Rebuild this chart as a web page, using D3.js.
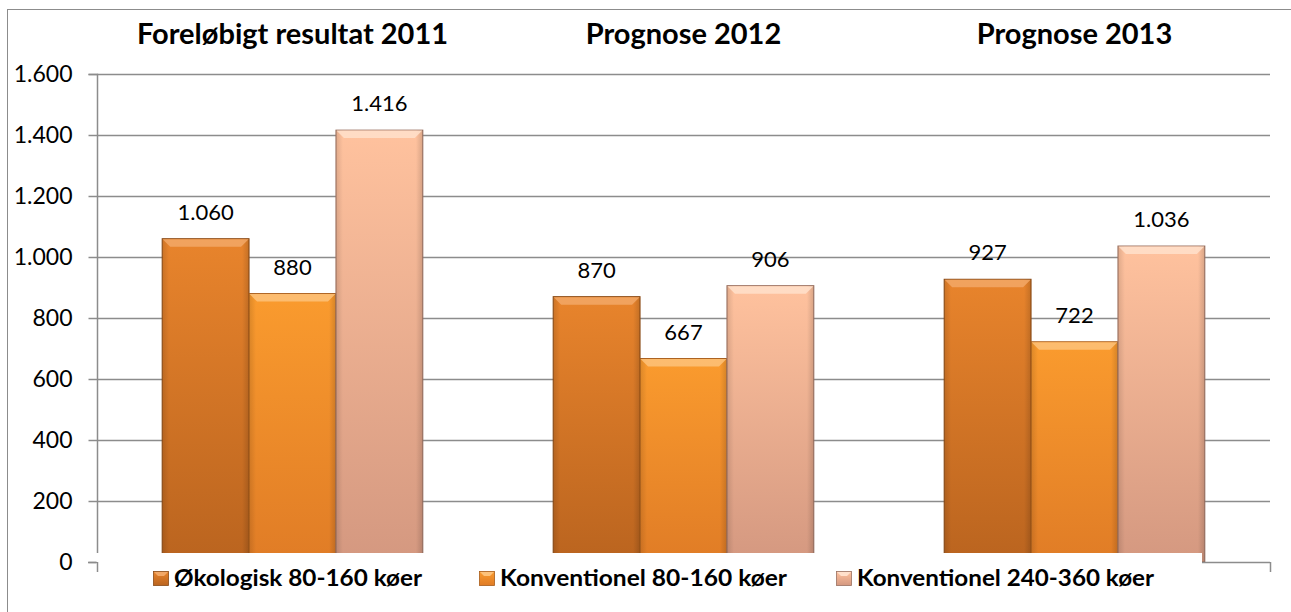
<!DOCTYPE html>
<html><head><meta charset="utf-8">
<script src="https://cdn.jsdelivr.net/npm/d3@7"></script>
<style>body{margin:0;background:#fff}svg{display:block}</style>
</head><body>
<svg id="c" width="1291" height="612"></svg>
<script>
const categories = ["Foreløbigt resultat 2011", "Prognose 2012", "Prognose 2013"];
const seriesNames = ["Økologisk 80-160 køer", "Konventionel 80-160 køer", "Konventionel 240-360 køer"];
const okologisk = [1060, 870, 927];
const konv80 = [880, 667, 722];
const konv240 = [1416, 906, 1036];
const yTicks = [0, 200, 400, 600, 800, 1000, 1200, 1400, 1600];
const fmt = v => d3.format(",")(v).replace(/,/g, ".");

const seriesValues = [okologisk, konv80, konv240];
const colors = [
  {top:"#E8842C", bot:"#BA641F", hi:"#F2A867", edge:"#8A4A16"},
  {top:"#FA9B2E", bot:"#E07C26", hi:"#FDC27A", edge:"#A85C1A"},
  {top:"#FFC29E", bot:"#D49880", hi:"#FFE0CB", edge:"#9A7060"}
];

const svg = d3.select("#c");
const font = "Lato, 'Open Sans', sans-serif";
const L = 97, R = 1270, T = 74, B = 562;

const x0 = d3.scaleBand().domain(categories).range([L, R]).paddingInner(0).paddingOuter(0);
const x1 = d3.scaleBand().domain(d3.range(3)).range([0, x0.bandwidth()]).paddingInner(0).paddingOuter(0.75);
const y = d3.scaleLinear().domain([0, 1600]).range([B, T]);

// outer border
svg.append("rect").attr("x", 7.5).attr("y", 9.5).attr("width", 1290).attr("height", 610)
  .attr("fill", "none").attr("stroke", "#8c8c8c").attr("stroke-width", 1);

// gradients
const defs = svg.append("defs");
colors.forEach((c, i) => {
  const g = defs.append("linearGradient").attr("id", "g" + i).attr("x1", 0).attr("y1", 0).attr("x2", 0).attr("y2", 1);
  g.append("stop").attr("offset", 0).attr("stop-color", c.top);
  g.append("stop").attr("offset", 1).attr("stop-color", c.bot);
  const h = defs.append("linearGradient").attr("id", "h" + i).attr("x1", 0).attr("y1", 0).attr("x2", 1).attr("y2", 0);
  h.append("stop").attr("offset", 0).attr("stop-color", "#000").attr("stop-opacity", 0.12);
  h.append("stop").attr("offset", 0.08).attr("stop-color", "#000").attr("stop-opacity", 0);
  h.append("stop").attr("offset", 0.92).attr("stop-color", "#000").attr("stop-opacity", 0);
  h.append("stop").attr("offset", 1).attr("stop-color", "#000").attr("stop-opacity", 0.15);
});

// gridlines
svg.append("g").selectAll("line").data(yTicks.filter(d => d > 0)).join("line")
  .attr("x1", L).attr("x2", R).attr("y1", d => y(d) + 0.5).attr("y2", d => y(d) + 0.5)
  .attr("stroke", "#8c8c8c").attr("stroke-width", 1.5);

// y axis
const yAxis = svg.append("g").attr("transform", `translate(${L + 0.5},0)`)
  .call(d3.axisLeft(y).tickValues(yTicks).tickSize(9).tickPadding(16).tickFormat(fmt));
yAxis.selectAll("path,line").attr("stroke", "#8c8c8c").attr("stroke-width", 1.5);
yAxis.select(".domain").attr("d", `M-9,${T + 0.5}H0V${B + 0.5}`);
yAxis.selectAll("text").attr("font-family", font).attr("font-size", 23).attr("fill", "#000");

// bars
categories.forEach((cat, ci) => {
  const g = svg.append("g").attr("transform", `translate(${x0(cat)},0)`);
  seriesValues.forEach((vals, si) => {
    const v = vals[ci];
    const bx = x1(si), bw = x1.bandwidth(), by = y(v), bh = y(0) - y(v);
    const c = colors[si];
    g.append("rect").attr("x", bx).attr("y", by).attr("width", bw).attr("height", bh)
      .attr("fill", `url(#g${si})`).attr("stroke", c.edge).attr("stroke-width", 1);
    g.append("rect").attr("x", bx).attr("y", by).attr("width", bw).attr("height", bh)
      .attr("fill", `url(#h${si})`);
    const bv = 8;
    g.append("path").attr("d", `M${bx + 0.5},${by + 0.5}H${bx + bw - 0.5}L${bx + bw - bv},${by + bv}H${bx + bv}Z`)
      .attr("fill", c.hi).attr("opacity", 0.85);
    g.append("text").attr("x", bx + bw / 2).attr("y", by - 19).attr("text-anchor", "middle")
      .attr("font-family", font).attr("font-size", 22).attr("fill", "#000").text(fmt(v));
  });
});

// x axis baseline
svg.append("line").attr("x1", L).attr("x2", R).attr("y1", B + 0.5).attr("y2", B + 0.5)
  .attr("stroke", "#8c8c8c").attr("stroke-width", 1.5);

// category titles (top)
svg.append("g").selectAll("text").data(categories).join("text")
  .attr("x", d => x0(d) + x0.bandwidth() / 2).attr("y", 44).attr("text-anchor", "middle")
  .attr("font-family", font).attr("font-weight", "bold").attr("font-size", 29).attr("fill", "#000").text(d => d);

// legend
const lg = svg.append("g");
lg.append("rect").attr("x", 96).attr("y", 553).attr("width", 1106).attr("height", 48).attr("fill", "#fff");
const legendX = [153, 479, 836];
const legendW = [248, 287, 297];
seriesNames.forEach((n, i) => {
  const c = colors[i];
  lg.append("rect").attr("x", legendX[i] + 0.5).attr("y", 571.5).attr("width", 15).attr("height", 14)
    .attr("fill", `url(#g${i})`).attr("stroke", c.edge).attr("stroke-width", 0.8);
  lg.append("path").attr("d", `M${legendX[i] + 1},572H${legendX[i] + 15}L${legendX[i] + 11},576H${legendX[i] + 5}Z`).attr("fill", c.hi);
  lg.append("text").attr("x", legendX[i] + 21).attr("y", 586).attr("font-family", font).attr("font-weight", "bold")
    .attr("font-size", 23).attr("textLength", legendW[i]).attr("lengthAdjust", "spacingAndGlyphs")
    .attr("fill", "#000").text(n);
});

// ticks visible over legend area
const bounds = [L, ...categories.map(c => x0(c) + x0.bandwidth())];
svg.append("line").attr("x1", L - 9).attr("x2", L).attr("y1", B + 0.5).attr("y2", B + 0.5)
  .attr("stroke", "#8c8c8c").attr("stroke-width", 1.5);
svg.append("g").selectAll("line").data([bounds[0], bounds[3]]).join("line")
  .attr("x1", d => d + 0.5).attr("x2", d => d + 0.5).attr("y1", B).attr("y2", B + 10)
  .attr("stroke", "#8c8c8c").attr("stroke-width", 1.5);
</script>
</body></html>
